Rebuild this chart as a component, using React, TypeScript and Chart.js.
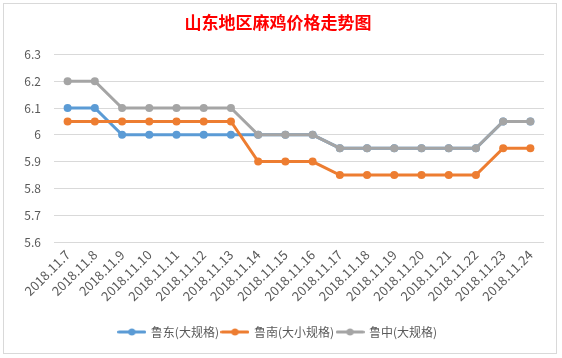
import React, { useEffect, useRef } from "react";
import { Chart, registerables } from "chart.js";

Chart.register(...registerables);

const categories = [
  "2018.11.7", "2018.11.8", "2018.11.9", "2018.11.10", "2018.11.11", "2018.11.12",
  "2018.11.13", "2018.11.14", "2018.11.15", "2018.11.16", "2018.11.17", "2018.11.18",
  "2018.11.19", "2018.11.20", "2018.11.21", "2018.11.22", "2018.11.23", "2018.11.24",
];
const luDong = [6.1, 6.1, 6.0, 6.0, 6.0, 6.0, 6.0, 6.0, 6.0, 6.0, 5.95, 5.95, 5.95, 5.95, 5.95, 5.95, 6.05, 6.05];
const luNan = [6.05, 6.05, 6.05, 6.05, 6.05, 6.05, 6.05, 5.9, 5.9, 5.9, 5.85, 5.85, 5.85, 5.85, 5.85, 5.85, 5.95, 5.95];
const luZhong = [6.2, 6.2, 6.1, 6.1, 6.1, 6.1, 6.1, 6.0, 6.0, 6.0, 5.95, 5.95, 5.95, 5.95, 5.95, 5.95, 6.05, 6.05];
const seriesNames = ["鲁东(大规格)", "鲁南(大小规格)", "鲁中(大规格)"];
const seriesColors = ["#5B9BD5", "#ED7D31", "#A5A5A5"];
const yMin = 5.6;
const yMax = 6.3;
const yStep = 0.1;
const title = "山东地区麻鸡价格走势图";

const FONT = "'Noto Sans CJK SC', 'Noto Sans', sans-serif";

function legendSymbol(color: string): HTMLCanvasElement {
  const c = document.createElement("canvas");
  c.width = 29;
  c.height = 10;
  const ctx = c.getContext("2d")!;
  ctx.strokeStyle = color;
  ctx.lineWidth = 3;
  ctx.lineCap = "round";
  ctx.beginPath();
  ctx.moveTo(1.5, 5);
  ctx.lineTo(27.5, 5);
  ctx.stroke();
  ctx.fillStyle = color;
  ctx.beginPath();
  ctx.arc(14.5, 5, 3.5, 0, Math.PI * 2);
  ctx.fill();
  return c;
}

export default function App() {
  const ref = useRef<HTMLCanvasElement>(null);
  useEffect(() => {
    document.body.style.margin = "0";
    const data = [luDong, luNan, luZhong];
    const symbols = seriesColors.map(legendSymbol);
    const chart = new Chart(ref.current!, {
      type: "line",
      data: {
        labels: categories,
        datasets: data.map((d, i) => ({
          label: seriesNames[i],
          data: d,
          borderColor: seriesColors[i],
          backgroundColor: seriesColors[i],
          borderWidth: 3,
          pointRadius: 4,
          pointHoverRadius: 4,
          pointBorderWidth: 0,
          tension: 0,
          order: 2 - i,
        })),
      },
      options: {
        animation: false,
        responsive: false,
        devicePixelRatio: 1,
        layout: { padding: { left: 8, right: 12, top: 0, bottom: 5 } },
        plugins: {
          title: {
            display: true,
            text: title,
            color: "#FF0000",
            font: { family: FONT, size: 17, weight: "bold" },
            padding: { top: 8, bottom: 22 },
          },
          legend: {
            position: "bottom",
            labels: {
              usePointStyle: true,
              pointStyleWidth: 26,
              color: "#595959",
              font: { family: FONT, size: 12 },
              padding: 3,
              boxHeight: 10,
              generateLabels: () =>
                seriesNames.map((n, i) => ({
                  text: n,
                  pointStyle: symbols[i],
                  fillStyle: seriesColors[i],
                  strokeStyle: seriesColors[i],
                  lineWidth: 0,
                  hidden: false,
                  datasetIndex: i,
                  fontColor: "#595959",
                })),
            },
          },
          tooltip: { enabled: false },
        },
        scales: {
          x: {
            offset: true,
            grid: { display: false, drawTicks: false },
            border: { display: false },
            ticks: {
              color: "#595959",
              font: { family: FONT, size: 13 },
              minRotation: 45,
              maxRotation: 45,
              autoSkip: false,
              padding: 5,
            },
            afterFit: (s: any) => {
              s.height = 81;
            },
          },
          y: {
            min: yMin,
            max: yMax,
            grid: { color: "#D9D9D9", drawTicks: false },
            border: { display: false },
            ticks: {
              stepSize: yStep,
              color: "#595959",
              font: { family: FONT, size: 12 },
              padding: 13,
              callback: (v) => String(Number(Number(v).toFixed(2))),
            },
            afterFit: (s: any) => {
              s.width = 42;
            },
          },
        },
      },
    });
    return () => chart.destroy();
  }, []);
  return (
    <div style={{ position: "fixed", left: 0, top: 0, width: 562, height: 358, background: "#fff" }}>
      <div
        style={{
          position: "absolute",
          left: 3,
          top: 3,
          width: 554,
          height: 351,
          border: "1px solid #D9D9D9",
          boxSizing: "border-box",
        }}
      >
        <canvas ref={ref} width={552} height={349} style={{ display: "block" }} />
      </div>
    </div>
  );
}
